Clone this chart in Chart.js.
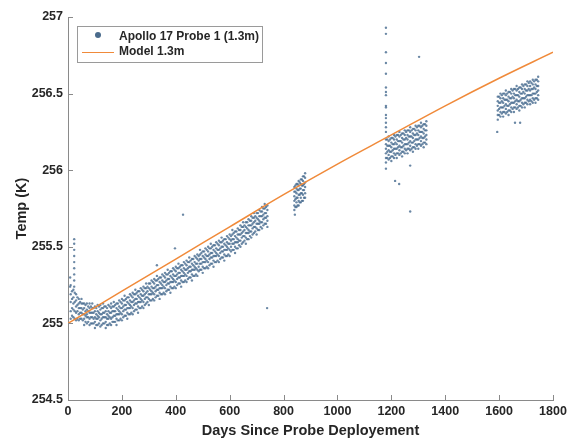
<!DOCTYPE html>
<html>
<head>
<meta charset="utf-8">
<script src="https://cdn.jsdelivr.net/npm/chart.js@4"></script>
<style>
  body { margin: 0; background: #fff; }
  #wrap { width: 569px; height: 440px; }
</style>
</head>
<body>
<div id="wrap"><canvas id="probeChart" width="569" height="440"></canvas></div>
<script>
// Model curve
const modelDays  = [0, 200, 400, 600, 800, 1000, 1200, 1400, 1600, 1800];
const modelTemps = [255.0, 255.21, 255.42, 255.63, 255.84, 256.04, 256.23, 256.42, 256.60, 256.77];

// Probe readings: each row is [day, temp, temp, ...]
const spikeRows = [
    [8, 255.24, 255.30],
    [23, 255.24, 255.28, 255.32, 255.36, 255.40, 255.44, 255.48, 255.52, 255.55]
];
const firstRows = [
    [10, 255.03, 255.08, 255.14, 255.19, 255.25],
    [20, 255.04, 255.09, 255.13, 255.17, 255.22],
    [30, 255.02, 255.07, 255.11, 255.15, 255.19],
    [40, 255.02, 255.06, 255.10, 255.13, 255.16],
    [50, 255.03, 255.07, 255.10, 255.13, 255.16],
    [60, 254.99, 255.03, 255.06, 255.10, 255.13],
    [70, 255.00, 255.04, 255.06, 255.09, 255.13],
    [80, 254.99, 255.03, 255.07, 255.10, 255.13],
    [90, 255.00, 255.04, 255.07, 255.10, 255.13],
    [100, 254.97, 255.01, 255.04, 255.08, 255.11],
    [110, 254.99, 255.03, 255.05, 255.08, 255.12],
    [120, 254.98, 255.02, 255.06, 255.09, 255.12],
    [130, 255.00, 255.04, 255.07, 255.10, 255.13],
    [140, 254.97, 255.01, 255.04, 255.08, 255.11],
    [150, 254.99, 255.03, 255.05, 255.08, 255.12],
    [160, 254.99, 255.03, 255.07, 255.10, 255.13],
    [170, 255.01, 255.05, 255.08, 255.11, 255.14],
    [180, 254.99, 255.03, 255.06, 255.10, 255.13],
    [190, 255.02, 255.06, 255.08, 255.11, 255.15],
    [200, 255.02, 255.06, 255.10, 255.13, 255.16],
    [210, 255.05, 255.09, 255.12, 255.15, 255.18],
    [220, 255.03, 255.07, 255.10, 255.14, 255.17],
    [230, 255.06, 255.10, 255.12, 255.15, 255.19],
    [240, 255.06, 255.10, 255.14, 255.17, 255.20],
    [250, 255.09, 255.13, 255.16, 255.19, 255.22],
    [260, 255.07, 255.11, 255.14, 255.18, 255.21],
    [270, 255.10, 255.14, 255.16, 255.19, 255.23],
    [280, 255.10, 255.14, 255.18, 255.21, 255.24],
    [290, 255.13, 255.17, 255.20, 255.23, 255.26],
    [300, 255.12, 255.16, 255.19, 255.23, 255.26],
    [310, 255.15, 255.19, 255.21, 255.24, 255.28],
    [320, 255.15, 255.19, 255.23, 255.26, 255.29],
    [330, 255.18, 255.22, 255.25, 255.28, 255.31],
    [340, 255.16, 255.20, 255.23, 255.27, 255.30],
    [350, 255.19, 255.23, 255.25, 255.28, 255.32],
    [360, 255.19, 255.23, 255.27, 255.30, 255.33],
    [370, 255.22, 255.26, 255.29, 255.32, 255.35],
    [380, 255.20, 255.24, 255.27, 255.31, 255.34],
    [390, 255.23, 255.27, 255.29, 255.32, 255.36],
    [400, 255.23, 255.27, 255.31, 255.34, 255.37],
    [410, 255.26, 255.30, 255.33, 255.36, 255.39],
    [420, 255.24, 255.28, 255.31, 255.35, 255.38],
    [430, 255.27, 255.31, 255.33, 255.36, 255.40],
    [440, 255.27, 255.31, 255.35, 255.38, 255.41],
    [450, 255.30, 255.34, 255.37, 255.40, 255.43],
    [460, 255.28, 255.32, 255.35, 255.39, 255.42],
    [470, 255.31, 255.35, 255.37, 255.40, 255.44],
    [480, 255.31, 255.35, 255.39, 255.42, 255.45],
    [490, 255.35, 255.39, 255.42, 255.45, 255.48],
    [500, 255.33, 255.37, 255.40, 255.44, 255.47],
    [510, 255.36, 255.40, 255.42, 255.45, 255.49],
    [520, 255.36, 255.40, 255.44, 255.47, 255.50],
    [530, 255.39, 255.43, 255.46, 255.49, 255.52],
    [540, 255.37, 255.41, 255.44, 255.48, 255.51],
    [550, 255.40, 255.44, 255.46, 255.49, 255.53],
    [560, 255.40, 255.44, 255.48, 255.51, 255.54],
    [570, 255.43, 255.47, 255.50, 255.53, 255.56],
    [580, 255.41, 255.45, 255.48, 255.52, 255.55],
    [590, 255.44, 255.48, 255.50, 255.53, 255.57],
    [600, 255.44, 255.48, 255.52, 255.55, 255.58],
    [610, 255.48, 255.52, 255.55, 255.58, 255.61],
    [620, 255.46, 255.50, 255.53, 255.57, 255.60],
    [630, 255.49, 255.53, 255.55, 255.58, 255.62],
    [640, 255.50, 255.54, 255.58, 255.61, 255.64],
    [650, 255.53, 255.57, 255.60, 255.63, 255.66],
    [660, 255.52, 255.56, 255.59, 255.63, 255.66],
    [670, 255.55, 255.59, 255.61, 255.64, 255.68],
    [680, 255.56, 255.60, 255.64, 255.67, 255.70],
    [690, 255.59, 255.63, 255.66, 255.69, 255.72],
    [700, 255.58, 255.62, 255.65, 255.69, 255.72],
    [710, 255.61, 255.65, 255.67, 255.70, 255.74],
    [720, 255.62, 255.66, 255.70, 255.73, 255.76],
    [730, 255.65, 255.69, 255.72, 255.75, 255.78],
    [740, 255.63, 255.67, 255.70, 255.74, 255.77]
];
const firstMidRows = [
    [15, 255.05, 255.10, 255.16, 255.21], [25, 255.03, 255.08, 255.14, 255.20],
    [35, 255.03, 255.08, 255.12, 255.17], [45, 255.03, 255.07, 255.10, 255.14],
    [55, 255.02, 255.06, 255.09, 255.13], [65, 255.01, 255.05, 255.08, 255.12],
    [75, 255.01, 255.04, 255.08, 255.11], [85, 255.00, 255.04, 255.07, 255.11],
    [95, 255.00, 255.03, 255.07, 255.10], [105, 254.99, 255.03, 255.06, 255.10],
    [115, 255.00, 255.04, 255.07, 255.11], [125, 254.99, 255.03, 255.06, 255.10],
    [135, 255.00, 255.04, 255.07, 255.11], [145, 254.99, 255.03, 255.06, 255.10],
    [155, 255.00, 255.04, 255.07, 255.11], [165, 255.01, 255.04, 255.08, 255.11],
    [175, 255.01, 255.05, 255.08, 255.12], [185, 255.02, 255.06, 255.09, 255.13],
    [195, 255.03, 255.07, 255.10, 255.14], [205, 255.04, 255.08, 255.11, 255.15],
    [215, 255.05, 255.09, 255.12, 255.16], [225, 255.06, 255.10, 255.13, 255.17],
    [235, 255.07, 255.11, 255.14, 255.18], [245, 255.08, 255.12, 255.15, 255.19],
    [255, 255.09, 255.13, 255.16, 255.20], [265, 255.10, 255.14, 255.17, 255.21],
    [275, 255.11, 255.15, 255.18, 255.22], [285, 255.12, 255.16, 255.19, 255.23],
    [295, 255.14, 255.17, 255.21, 255.24], [305, 255.15, 255.19, 255.22, 255.26],
    [315, 255.16, 255.20, 255.23, 255.27], [325, 255.17, 255.21, 255.24, 255.28],
    [335, 255.18, 255.22, 255.25, 255.29], [345, 255.19, 255.23, 255.26, 255.30],
    [355, 255.20, 255.24, 255.27, 255.31], [365, 255.21, 255.25, 255.28, 255.32],
    [375, 255.22, 255.26, 255.29, 255.33], [385, 255.23, 255.27, 255.30, 255.34],
    [395, 255.24, 255.28, 255.31, 255.35], [405, 255.25, 255.29, 255.32, 255.36],
    [415, 255.26, 255.30, 255.33, 255.37], [425, 255.27, 255.31, 255.34, 255.38],
    [435, 255.28, 255.32, 255.35, 255.39], [445, 255.29, 255.33, 255.36, 255.40],
    [455, 255.30, 255.34, 255.37, 255.41], [465, 255.31, 255.35, 255.38, 255.42],
    [475, 255.32, 255.36, 255.39, 255.43], [485, 255.34, 255.37, 255.41, 255.44],
    [495, 255.35, 255.39, 255.42, 255.46], [505, 255.36, 255.40, 255.43, 255.47],
    [515, 255.37, 255.41, 255.44, 255.48], [525, 255.38, 255.42, 255.45, 255.49],
    [535, 255.39, 255.43, 255.46, 255.50], [545, 255.40, 255.44, 255.47, 255.51],
    [555, 255.41, 255.45, 255.48, 255.52], [565, 255.42, 255.46, 255.49, 255.53],
    [575, 255.43, 255.47, 255.50, 255.54], [585, 255.44, 255.48, 255.51, 255.55],
    [595, 255.45, 255.49, 255.52, 255.56], [605, 255.47, 255.50, 255.54, 255.57],
    [615, 255.48, 255.52, 255.55, 255.59], [625, 255.49, 255.53, 255.56, 255.60],
    [635, 255.51, 255.54, 255.58, 255.61], [645, 255.52, 255.56, 255.59, 255.63],
    [655, 255.54, 255.57, 255.61, 255.64], [665, 255.55, 255.59, 255.62, 255.66],
    [675, 255.57, 255.60, 255.64, 255.67], [685, 255.58, 255.62, 255.65, 255.69],
    [695, 255.60, 255.63, 255.67, 255.70], [705, 255.61, 255.65, 255.68, 255.72],
    [715, 255.63, 255.66, 255.70, 255.73], [725, 255.64, 255.68, 255.71, 255.75],
    [735, 255.65, 255.69, 255.72, 255.76]
];
const secondRows = [
    [840, 255.74, 255.77, 255.80, 255.83, 255.86, 255.89],
    [844, 255.76, 255.81, 255.86, 255.90],
    [848, 255.76, 255.79, 255.82, 255.85, 255.88, 255.91],
    [852, 255.77, 255.82, 255.87, 255.91],
    [856, 255.77, 255.80, 255.84, 255.87, 255.90, 255.93],
    [860, 255.79, 255.84, 255.88, 255.92],
    [864, 255.79, 255.82, 255.85, 255.88, 255.91, 255.94],
    [868, 255.80, 255.85, 255.90, 255.94],
    [872, 255.80, 255.84, 255.87, 255.90, 255.93, 255.96],
    [876, 255.82, 255.87, 255.91, 255.96],
    [880, 255.82, 255.85, 255.89, 255.92, 255.95, 255.98]
];
const thirdRows = [
    [1180, 256.05, 256.08, 256.11, 256.14, 256.17, 256.20],
    [1185, 256.08, 256.12, 256.16, 256.20],
    [1190, 256.07, 256.10, 256.13, 256.16, 256.19, 256.22],
    [1195, 256.08, 256.12, 256.16, 256.20],
    [1200, 256.06, 256.09, 256.12, 256.15, 256.18, 256.21],
    [1205, 256.09, 256.13, 256.17, 256.21],
    [1210, 256.08, 256.11, 256.14, 256.17, 256.20, 256.23],
    [1215, 256.10, 256.14, 256.18, 256.22],
    [1220, 256.08, 256.11, 256.14, 256.17, 256.20, 256.23],
    [1225, 256.11, 256.15, 256.19, 256.23],
    [1230, 256.10, 256.13, 256.16, 256.19, 256.22, 256.25],
    [1235, 256.11, 256.15, 256.19, 256.23],
    [1240, 256.09, 256.12, 256.15, 256.18, 256.21, 256.24],
    [1245, 256.12, 256.16, 256.20, 256.24],
    [1250, 256.11, 256.14, 256.17, 256.20, 256.23, 256.26],
    [1255, 256.13, 256.17, 256.21, 256.25],
    [1260, 256.11, 256.14, 256.17, 256.20, 256.23, 256.26],
    [1265, 256.14, 256.18, 256.22, 256.26],
    [1270, 256.13, 256.16, 256.19, 256.22, 256.25, 256.28],
    [1275, 256.14, 256.18, 256.22, 256.26],
    [1280, 256.12, 256.15, 256.18, 256.21, 256.24, 256.27],
    [1285, 256.15, 256.19, 256.23, 256.27],
    [1290, 256.14, 256.17, 256.20, 256.23, 256.26, 256.29],
    [1295, 256.16, 256.20, 256.24, 256.28],
    [1300, 256.14, 256.17, 256.20, 256.23, 256.26, 256.29],
    [1305, 256.17, 256.21, 256.25, 256.29],
    [1310, 256.16, 256.19, 256.22, 256.25, 256.28, 256.31],
    [1315, 256.17, 256.21, 256.25, 256.29],
    [1320, 256.15, 256.18, 256.21, 256.24, 256.27, 256.30],
    [1325, 256.18, 256.22, 256.26, 256.30],
    [1330, 256.17, 256.20, 256.23, 256.26, 256.29, 256.32]
];
const fourthRows = [
    [1595, 256.33, 256.36, 256.39, 256.42, 256.45, 256.48],
    [1600, 256.36, 256.40, 256.44, 256.48],
    [1605, 256.35, 256.38, 256.41, 256.44, 256.47, 256.50],
    [1610, 256.37, 256.41, 256.45, 256.49],
    [1615, 256.35, 256.38, 256.41, 256.44, 256.47, 256.50],
    [1620, 256.38, 256.42, 256.46, 256.50],
    [1625, 256.37, 256.40, 256.43, 256.46, 256.49, 256.52],
    [1630, 256.38, 256.42, 256.46, 256.50],
    [1635, 256.36, 256.39, 256.42, 256.45, 256.48, 256.51],
    [1640, 256.39, 256.43, 256.47, 256.51],
    [1645, 256.38, 256.41, 256.44, 256.47, 256.50, 256.53],
    [1650, 256.40, 256.44, 256.48, 256.52],
    [1655, 256.38, 256.41, 256.44, 256.47, 256.50, 256.53],
    [1660, 256.41, 256.45, 256.49, 256.53],
    [1665, 256.40, 256.43, 256.46, 256.49, 256.52, 256.55],
    [1670, 256.41, 256.45, 256.49, 256.53],
    [1675, 256.39, 256.42, 256.45, 256.48, 256.51, 256.54],
    [1680, 256.42, 256.46, 256.50, 256.54],
    [1685, 256.41, 256.44, 256.47, 256.50, 256.53, 256.56],
    [1690, 256.43, 256.47, 256.51, 256.55],
    [1695, 256.41, 256.44, 256.47, 256.50, 256.53, 256.56],
    [1700, 256.44, 256.48, 256.52, 256.56],
    [1705, 256.43, 256.46, 256.49, 256.52, 256.55, 256.58],
    [1710, 256.45, 256.49, 256.53, 256.57],
    [1715, 256.43, 256.46, 256.49, 256.52, 256.55, 256.58],
    [1720, 256.45, 256.49, 256.53, 256.57],
    [1725, 256.44, 256.47, 256.50, 256.53, 256.56, 256.59],
    [1730, 256.46, 256.50, 256.54, 256.58],
    [1735, 256.44, 256.47, 256.50, 256.53, 256.56, 256.59],
    [1740, 256.47, 256.51, 256.55, 256.59],
    [1745, 256.46, 256.49, 256.52, 256.55, 256.58, 256.61]
];
const outlierRows = [
    [330, 255.38], [397, 255.49], [427, 255.71], [739, 255.10], [842, 255.71],
    [1180, 256.93, 256.89, 256.77, 256.70, 256.63, 256.54, 256.51, 256.49, 256.42,
           256.41, 256.36, 256.34, 256.31, 256.28, 256.25, 256.01],
    [1214, 255.93], [1229, 255.91], [1270, 255.73, 256.03], [1303, 256.74],
    [1593, 256.25], [1659, 256.31], [1678, 256.31]
];

const rowsToPoints = (rows) => rows.flatMap(r => r.slice(1).map(t => ({x: r[0], y: t})));
const probePoints = [spikeRows, firstRows, firstMidRows, secondRows, thirdRows, fourthRows, outlierRows].flatMap(rowsToPoints);
const modelPoints = modelDays.map((d, i) => ({x: d, y: modelTemps[i]}));

const FONT = '"Liberation Sans", Arial, sans-serif';
const TEXT = '#262626';
const AXIS = '#8a8a8a';
const DOT = 'rgba(70,106,142,0.8)';
const ORANGE = '#f08a3a';

// small inward ticks like the original figure
const innerTicks = {
    id: 'innerTicks',
    afterDraw(chart) {
        const {ctx, chartArea: a, scales: {x, y}} = chart;
        ctx.save();
        ctx.strokeStyle = AXIS;
        ctx.lineWidth = 1;
        ctx.beginPath();
        x.ticks.forEach(t => {
            const px = Math.round(x.getPixelForValue(t.value)) + 0.5;
            ctx.moveTo(px, a.bottom);
            ctx.lineTo(px, a.bottom - 5);
        });
        y.ticks.forEach(t => {
            const py = Math.round(y.getPixelForValue(t.value)) + 0.5;
            ctx.moveTo(a.left, py);
            ctx.lineTo(a.left + 5, py);
        });
        ctx.stroke();
        ctx.restore();
    }
};

// boxed legend in the upper left corner
const boxLegend = {
    id: 'boxLegend',
    afterDraw(chart) {
        const ctx = chart.ctx;
        ctx.save();
        ctx.fillStyle = '#fff';
        ctx.fillRect(77, 26, 185, 36);
        ctx.strokeStyle = '#9a9a9a';
        ctx.lineWidth = 1;
        ctx.strokeRect(77.5, 26.5, 185, 36);
        ctx.fillStyle = '#4a6b8c';
        ctx.beginPath();
        ctx.arc(98, 35, 3, 0, Math.PI * 2);
        ctx.fill();
        ctx.strokeStyle = ORANGE;
        ctx.beginPath();
        ctx.moveTo(82, 52.5);
        ctx.lineTo(114, 52.5);
        ctx.stroke();
        ctx.fillStyle = TEXT;
        ctx.font = 'bold 12px ' + FONT;
        ctx.textBaseline = 'middle';
        ctx.fillText('Apollo 17 Probe 1 (1.3m)', 119, 37);
        ctx.fillText('Model 1.3m', 119, 52);
        ctx.restore();
    }
};

const tickFont = { family: FONT, size: 12.5, weight: 'bold' };
const titleFont = { family: FONT, size: 14.5, weight: 'bold' };

new Chart(document.getElementById('probeChart'), {
    type: 'scatter',
    data: {
        datasets: [{
            label: 'Apollo 17 Probe 1 (1.3m)',
            data: probePoints,
            backgroundColor: DOT,
            borderWidth: 0,
            pointRadius: 1.2,
            order: 2
        }, {
            label: 'Model 1.3m',
            type: 'line',
            data: modelPoints,
            borderColor: ORANGE,
            borderWidth: 1.5,
            pointRadius: 0,
            tension: 0.4,
            fill: false,
            order: 1
        }]
    },
    options: {
        responsive: false,
        animation: false,
        layout: { padding: { top: 17, right: 16, left: 0, bottom: 0 } },
        plugins: {
            legend: { display: false },
            tooltip: { enabled: false }
        },
        scales: {
            x: {
                type: 'linear',
                min: 0,
                max: 1800,
                afterFit: s => { s.height = 40; s.paddingLeft = 0; s.paddingRight = 0; },
                grid: { drawOnChartArea: false, drawTicks: false },
                border: { color: AXIS, width: 1 },
                ticks: { stepSize: 200, padding: 4, color: TEXT, font: tickFont, callback: v => String(v) },
                title: {
                    display: true,
                    text: 'Days Since Probe Deployement',
                    color: TEXT,
                    padding: { top: 0, bottom: 0 },
                    font: titleFont
                }
            },
            y: {
                min: 254.5,
                max: 257,
                afterFit: s => { s.width = 68; },
                grid: { drawOnChartArea: false, drawTicks: false },
                border: { color: AXIS, width: 1 },
                ticks: { stepSize: 0.5, padding: 5, color: TEXT, font: tickFont, callback: v => String(Number(v.toFixed(1))) },
                title: {
                    display: true,
                    text: 'Temp (K)',
                    color: TEXT,
                    padding: { top: 13, bottom: 0 },
                    font: titleFont
                }
            }
        }
    },
    plugins: [innerTicks, boxLegend]
});
</script>
</body>
</html>
